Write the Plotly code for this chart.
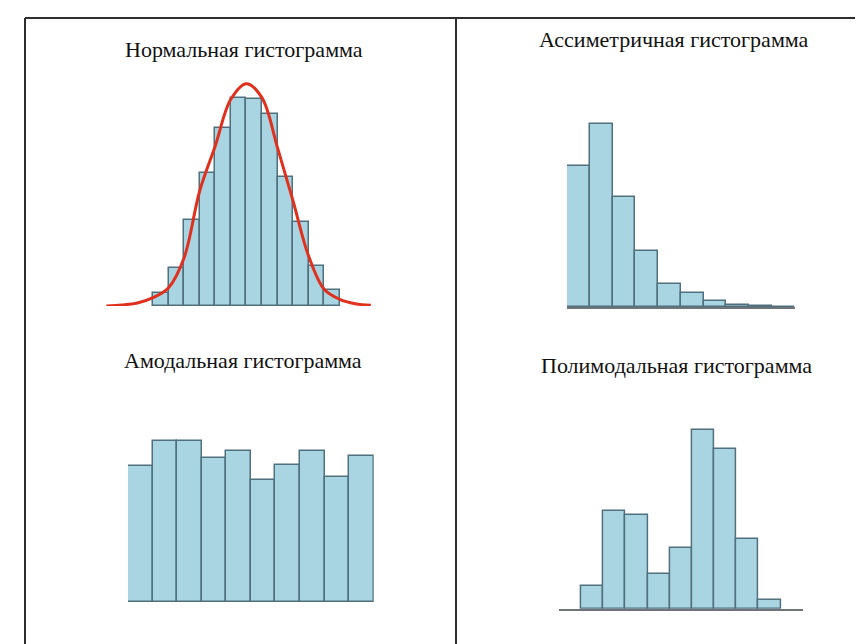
import plotly.graph_objects as go

W, H = 863, 644

# ---------------- data ----------------
normal_bins = list(range(12))
normal_counts = [8, 23, 51.4, 79.8, 106.6, 124.6, 124, 115, 77.4, 50.6, 24, 9.4]
normal_curve_x = [-3, -2, -1, 0, 1, 2, 3, 4, 5, 6, 7, 8, 9, 10, 11, 12, 13, 14]
normal_curve_y = [0, 0.6, 1.8, 5, 11, 29, 69, 96, 124, 133.4, 125, 95, 63, 30, 10, 4, 1.4, 0.4]

skew_bins = list(range(10))
skew_counts = [84.6, 110, 66.2, 34, 14.2, 8.6, 4, 1.6, 0.8, 0.4]

flat_bins = list(range(10))
flat_counts = [81.8, 96.8, 96.8, 86.4, 90.4, 73, 82, 90.4, 75, 87.8]

multi_bins = list(range(9))
multi_counts = [13.8, 58.8, 56, 20.8, 36.4, 107, 95.8, 42, 5.4]

titles = ["Нормальная гистограмма", "Ассиметричная гистограмма",
          "Амодальная гистограмма", "Полимодальная гистограмма"]

# ---------------- style ----------------
FILL = "#a9d4e1"
EDGE = "#51707e"
UNIT = 5 / 3  # px per count unit

fig = go.Figure()

def px_x(p):
    return p / W

def px_y(p):
    return 1 - p / H

def add_panel(idx, bins, counts, bar_left, bar_w, base_px, top_px, xr, baseline):
    xa = "x" if idx == 1 else f"x{idx}"
    ya = "y" if idx == 1 else f"y{idx}"
    fig.add_trace(go.Bar(x=[b + 0.5 for b in bins], y=counts, width=1,
                         marker=dict(color=FILL, line=dict(color=EDGE, width=1.5)),
                         xaxis=xa, yaxis=ya, showlegend=False, hoverinfo="skip"))
    x0 = bar_left + xr[0] * bar_w
    x1 = bar_left + xr[1] * bar_w
    lay_x = dict(domain=[px_x(x0), px_x(x1)], range=list(xr), showgrid=False,
                 zeroline=False, showticklabels=False, ticks="",
                 showline=baseline, linecolor="#6e7479", linewidth=2,
                 anchor=ya)
    lay_y = dict(domain=[px_y(base_px), px_y(top_px)],
                 range=[0, (base_px - top_px) / UNIT], showgrid=False,
                 zeroline=False, showticklabels=False, ticks="", showline=False,
                 anchor=xa)
    k = "" if idx == 1 else str(idx)
    fig.update_layout(**{"xaxis" + k: lay_x, "yaxis" + k: lay_y})
    return xa, ya

# normal
xa, ya = add_panel(1, normal_bins, normal_counts, 145, 15.56, 298, 60, (-3.6, 14.6), False)
fig.add_trace(go.Scatter(x=normal_curve_x, y=normal_curve_y, mode="lines",
                         line=dict(color="#e0301e", width=3, shape="spline", smoothing=1.0),
                         xaxis=xa, yaxis=ya, showlegend=False, hoverinfo="skip"))
# skewed
add_panel(2, skew_bins, skew_counts, 559, 22.77, 299.3, 90, (0, 10), True)
# amodal
add_panel(3, flat_bins, flat_counts, 120, 24.57, 594, 400, (0, 10), False)
# multimodal
add_panel(4, multi_bins, multi_counts, 573.3, 22.15, 600.7, 390, (-1, 10), True)

# ---------------- titles ----------------
title_pos = [(236, 42), (666, 32), (235, 352), (668, 357)]
for t, (cx, cy) in zip(titles, title_pos):
    fig.add_annotation(text=t, x=px_x(cx), y=px_y(cy), xref="paper", yref="paper",
                       showarrow=False, xanchor="center", yanchor="middle",
                       font=dict(family="Liberation Serif", size=22, color="#111"))

# ---------------- table borders ----------------
LC = "#2e2e2e"
fig.add_shape(type="line", xref="paper", yref="paper",
              x0=px_x(17), x1=1.0, y0=px_y(10), y1=px_y(10), line=dict(color=LC, width=2))
fig.add_shape(type="line", xref="paper", yref="paper",
              x0=px_x(17), x1=px_x(17), y0=px_y(10), y1=0, line=dict(color=LC, width=2))
fig.add_shape(type="line", xref="paper", yref="paper",
              x0=px_x(448), x1=px_x(448), y0=px_y(10), y1=0, line=dict(color=LC, width=2))

fig.update_layout(width=W, height=H, margin=dict(l=0, r=0, t=0, b=0),
                  paper_bgcolor="white", plot_bgcolor="rgba(0,0,0,0)",
                  bargap=0)

fig.write_html("out.html")
